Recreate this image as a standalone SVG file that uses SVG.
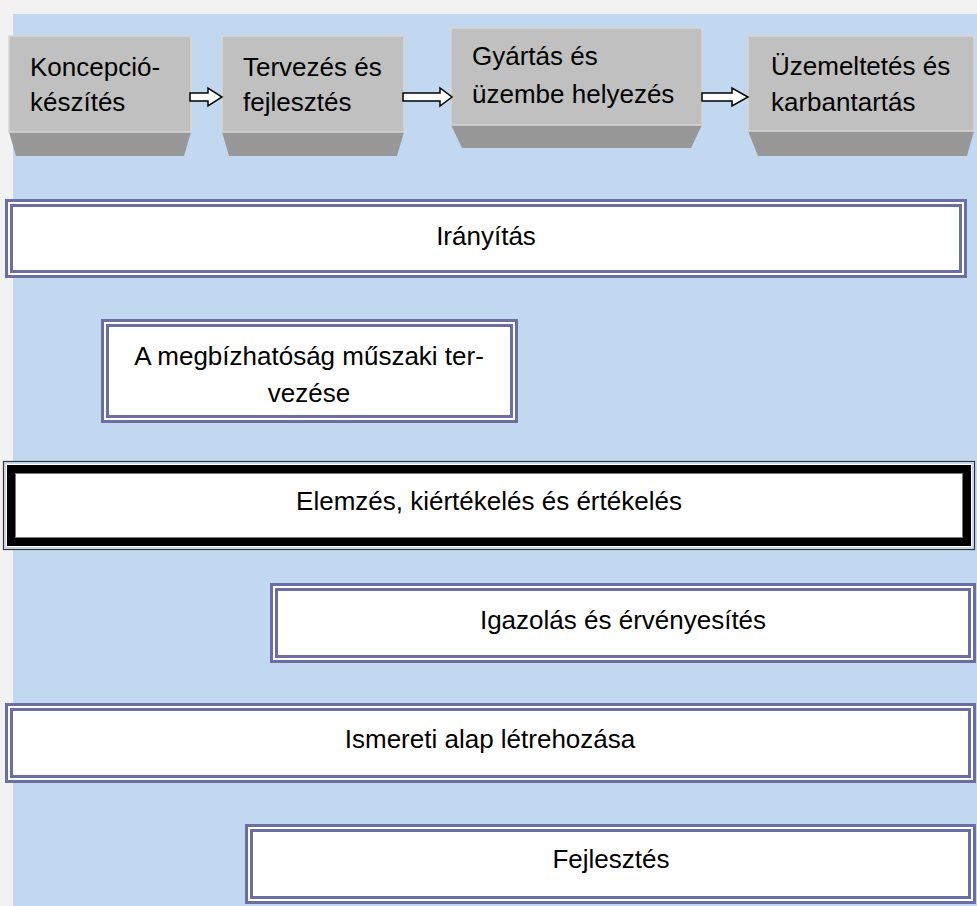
<svg xmlns="http://www.w3.org/2000/svg" width="977" height="906" viewBox="0 0 977 906">
<defs>
<style>
text{font-family:"Liberation Sans",Arial,sans-serif;font-size:26px;fill:#000}
.front{fill:#c0c0c0;stroke:#d6d6d6;stroke-width:1.5}
.bevel{fill:#989898}
.dbl{fill:#fff;stroke:#6b6ea3;stroke-width:3}
.dbli{fill:none;stroke:#6b6ea3;stroke-width:3}
.arr{fill:#fff;stroke:#000;stroke-width:1.5;stroke-linejoin:miter}
.c{text-anchor:middle}
</style>
</defs>
<rect x="0" y="0" width="977" height="906" fill="#f2f2f2"/>
<rect x="13" y="14" width="964" height="892" fill="#c2d8f0"/>

<g id="n-koncepcio">
<polygon class="bevel" points="9,132 191,132 184,156 16,156"/>
<rect class="front" x="9" y="36" width="182" height="96"/>
<text x="30" y="76">Koncepció-</text>
<text x="30" y="111">készítés</text>
</g>
<g id="n-tervezes">
<polygon class="bevel" points="222,132 404,132 397,156 229,156"/>
<rect class="front" x="222" y="36" width="182" height="96"/>
<text x="243" y="76">Tervezés és</text>
<text x="243" y="111">fejlesztés</text>
</g>
<g id="n-gyartas">
<polygon class="bevel" points="451,125 702,125 691,148 462,148"/>
<rect class="front" x="451" y="28" width="251" height="97"/>
<text x="472" y="65">Gyártás és</text>
<text x="472" y="103">üzembe helyezés</text>
</g>
<g id="n-uzemeltetes">
<polygon class="bevel" points="748,131 974,131 967,156 758,156"/>
<rect class="front" x="748" y="36" width="226" height="95"/>
<text x="771" y="75">Üzemeltetés és</text>
<text x="771" y="111">karbantartás</text>
</g>

<g id="connectors">
<polygon class="arr" points="190,93 208,93 208,88 222,97 208,106 208,101 190,101"/>
<polygon class="arr" points="403,93 440,93 440,88 452,97 440,106 440,101 403,101"/>
<polygon class="arr" points="702,93 732,93 732,88 748,97 732,106 732,101 702,101"/>
</g>

<g id="n-iranyitas">
<rect class="dbl" x="6.5" y="200.5" width="959" height="76"/>
<rect class="dbli" x="11.5" y="205.5" width="949" height="66"/>
<text class="c" x="486" y="245">Irányítás</text>
</g>

<g id="n-megbizhatosag">
<rect class="dbl" x="102.5" y="320.5" width="414" height="101"/>
<rect class="dbli" x="107.5" y="325.5" width="404" height="91"/>
<text class="c" x="309" y="365">A megbízhatóság műszaki ter-</text>
<text class="c" x="309" y="402">vezése</text>
</g>

<g id="n-elemzes">
<rect x="3.5" y="461.5" width="971" height="88" fill="#fff" stroke="#333" stroke-width="1.2"/>
<rect x="5" y="463" width="968" height="85" fill="none" stroke="#b9cde6" stroke-width="1.5"/>
<rect x="11.25" y="469.25" width="955.5" height="72.5" fill="none" stroke="#000" stroke-width="8.5"/>
<rect x="15.5" y="473.5" width="947" height="64" fill="none" stroke="#777" stroke-width="1"/>
<text class="c" x="489" y="510">Elemzés, kiértékelés és értékelés</text>
</g>

<g id="n-igazolas">
<rect class="dbl" x="271.5" y="584.5" width="703" height="77"/>
<rect class="dbli" x="276.5" y="589.5" width="693" height="67"/>
<text class="c" x="623" y="629">Igazolás és érvényesítés</text>
</g>

<g id="n-ismereti">
<rect class="dbl" x="6.5" y="704.5" width="968" height="77"/>
<rect class="dbli" x="11.5" y="709.5" width="958" height="67"/>
<text class="c" x="490" y="748">Ismereti alap létrehozása</text>
</g>

<g id="n-fejlesztes">
<rect class="dbl" x="246.5" y="825.5" width="728" height="77"/>
<rect class="dbli" x="251.5" y="830.5" width="718" height="67"/>
<text class="c" x="611" y="868">Fejlesztés</text>
</g>
</svg>
